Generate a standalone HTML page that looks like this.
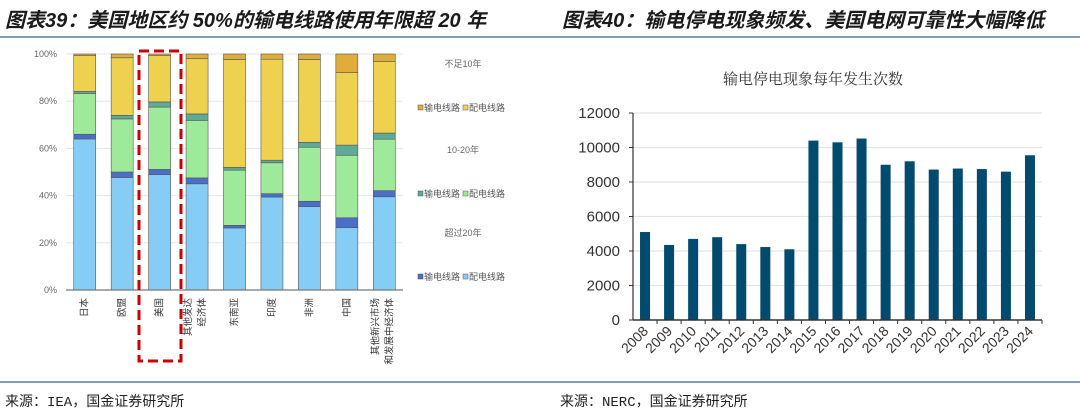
<!DOCTYPE html>
<html><head><meta charset="utf-8">
<style>
html,body{margin:0;padding:0;background:#fff;}
body{width:1080px;height:414px;position:relative;overflow:hidden;font-family:"Liberation Sans","Noto Sans CJK SC",sans-serif;}
.t{position:absolute;top:4px;font-size:20px;font-weight:bold;font-style:italic;color:#1a1a1a;font-family:"Liberation Sans","Noto Sans CJK SC",sans-serif;white-space:nowrap;}
.src{position:absolute;top:391px;font-size:14px;color:#222;font-family:"Liberation Mono","Noto Sans CJK SC",monospace;}
.line{position:absolute;height:2px;background:#7f9cb8;}
svg{position:absolute;left:0;top:0;}
</style></head><body>
<div class="t" style="left:5px">图表39：美国地区约 50%的输电线路使用年限超 20 年</div>
<div class="t" style="left:562px">图表40：输电停电现象频发、美国电网可靠性大幅降低</div>
<div class="line" style="left:0;top:36px;width:1080px"></div>
<div class="line" style="left:0;top:381px;width:1080px"></div>
<div class="src" style="left:5px">来源：IEA，国金证券研究所</div>
<div class="src" style="left:560px">来源：NERC，国金证券研究所</div>
<svg width="1080" height="414" id="chart"></svg>
<script>
// Left chart data
const regions = ["日本","欧盟","美国","其他发达|经济体","东南亚","印度","非洲","中国","其他新兴市场|和发展中经济体"];
const over20Dist = [64,47.7,48.9,45,26.3,39.4,35.3,26.4,39.5];
const over20Trans = [2,2.3,2.2,2.5,1.1,1.4,2.3,4.2,2.6];
const mid20Dist = [17.3,22.5,26.4,24.4,23.4,13.1,22.9,26.5,21.8];
const mid20Trans = [0.9,1.5,2.2,2.7,1.2,1.1,2.1,4.3,2.6];
const under10Dist = [15.1,24.4,19.6,23.4,45.7,42.8,35.1,30.7,30.4];
const under10Trans = [0.7,1.6,0.7,2,2.3,2.2,2.3,7.9,3.1];
const pctTicks = ["0%","20%","40%","60%","80%","100%"];
// Right chart data
const years = ["2008","2009","2010","2011","2012","2013","2014","2015","2016","2017","2018","2019","2020","2021","2022","2023","2024"];
const outages = [5100,4350,4700,4800,4400,4230,4100,10400,10300,10520,9000,9200,8720,8780,8750,8600,9550];
const countTicks = [0,2000,4000,6000,8000,10000,12000];

const NS="http://www.w3.org/2000/svg";
const svg=document.getElementById('chart');
function mk(tag,attrs,parent){const e=document.createElementNS(NS,tag);for(const k in attrs)e.setAttribute(k,attrs[k]);(parent||svg).appendChild(e);return e;}

// ---- Left chart
const L={x0:66,x1:403,y0:290,y1:54};
const ly=v=>L.y0-(L.y0-L.y1)*v/100;
const pitch=(L.x1-L.x0)/regions.length;
const lx=i=>L.x0+pitch*(i+0.5);
pctTicks.forEach((t,i)=>{
  const y=ly(i*20);
  if(i>0){const g=mk('line',{x1:L.x0,x2:L.x1,y1:y,y2:y,stroke:'#e6e6e6','stroke-width':1});
  
  }
  const tx=mk('text',{x:57,y:y+3,'text-anchor':'end','font-size':9,fill:'#666'});tx.textContent=t;
  
  
});
const series=[over20Dist,over20Trans,mid20Dist,mid20Trans,under10Dist,under10Trans];
const colors=['#86cdf5','#4a6fcb','#9eea9a','#5fa998','#efd150','#dfad3c'];
const snames=['over20-distribution','over20-transmission','10to20-distribution','10to20-transmission','under10-distribution','under10-transmission'];
regions.forEach((r,i)=>{
  let cum=0;
  series.forEach((s,k)=>{
    const v=s[i];const yTop=ly(cum+v),yBot=ly(cum);cum+=v;
    const b=mk('rect',{x:lx(i)-11,y:yTop,width:22,height:Math.max(0,yBot-yTop),fill:colors[k],stroke:'#555','stroke-width':0.6});
    
    
  });
  const parts=r.split('|');
  parts.forEach((p,j)=>{
    const xx=lx(i)+(parts.length>1?(j===0?-6:8):3);
    const tx=mk('text',{x:xx,y:298,'text-anchor':'end','font-size':9.5,fill:'#333',transform:`rotate(-90 ${xx} 298)`});
    tx.textContent=p;
    
    
  });
});
const ax=mk('line',{x1:L.x0,x2:L.x1,y1:L.y0,y2:L.y0,stroke:'#777','stroke-width':1.2});


// legend
const groups=[['不足10年',64,5,4],['10-20年',150,3,2],['超过20年',233,1,0]];
groups.forEach(g=>{
  const h=mk('text',{x:463,y:g[1]+3,'text-anchor':'middle','font-size':9,fill:'#666'});h.textContent=g[0];
  
  
  const ry=g[1]+45;
  [[418,g[2],'输电线路'],[463,g[3],'配电线路']].forEach(e=>{
    const sq=mk('rect',{x:e[0],y:ry-4,width:5,height:5,fill:colors[e[1]],stroke:'#555','stroke-width':0.5});
    
    
    const lt=mk('text',{x:e[0]+6,y:ry+2,'font-size':9,fill:'#555'});lt.textContent=e[2];
    
    
  });
});
const hl=mk('rect',{x:139,y:51,width:42,height:310,fill:'none',stroke:'#cc0000','stroke-width':3,'stroke-dasharray':'10 5'});



// ---- Right chart
const R={x0:633,x1:1042,y0:320,y1:113};
const ry=v=>R.y0-(R.y0-R.y1)*v/12000;
const rp=(R.x1-R.x0)/years.length;
const rx=i=>R.x0+rp*(i+0.5);
const title=mk('text',{x:813,y:84,'text-anchor':'middle','font-size':15,fill:'#333','font-family':'"Noto Serif CJK SC",serif'});
title.textContent='输电停电现象每年发生次数';


countTicks.forEach(t=>{
  const y=ry(t);
  if(t>0){const g=mk('line',{x1:R.x0,x2:R.x1,y1:y,y2:y,stroke:'#e3e3e3','stroke-width':1.2});
  
  }
  mk('line',{x1:R.x0-4,x2:R.x0,y1:y,y2:y,stroke:'#333','stroke-width':1});
  const tx=mk('text',{x:620,y:y+5,'text-anchor':'end','font-size':15,fill:'#333'});tx.textContent=t;
  
  
});
years.forEach((yr,i)=>{
  const v=outages[i];
  const b=mk('rect',{x:rx(i)-5,y:ry(v),width:10,height:R.y0-ry(v),fill:'#024a6e'});
  
  
  mk('line',{x1:R.x0+rp*(i+1),x2:R.x0+rp*(i+1),y1:R.y0,y2:R.y0+4,stroke:'#333','stroke-width':1});
  const xx=rx(i)+4,yy=R.y0+12;
  const tx=mk('text',{x:xx,y:yy,'text-anchor':'end','font-size':14,fill:'#333',transform:`rotate(-45 ${xx} ${yy})`});
  tx.textContent=yr;
  
  
});
const ya=mk('line',{x1:R.x0,x2:R.x0,y1:R.y1,y2:R.y0,stroke:'#333','stroke-width':1.2});


const xa=mk('line',{x1:R.x0,x2:R.x1,y1:R.y0,y2:R.y0,stroke:'#333','stroke-width':1.5});


</script>
</body></html>
